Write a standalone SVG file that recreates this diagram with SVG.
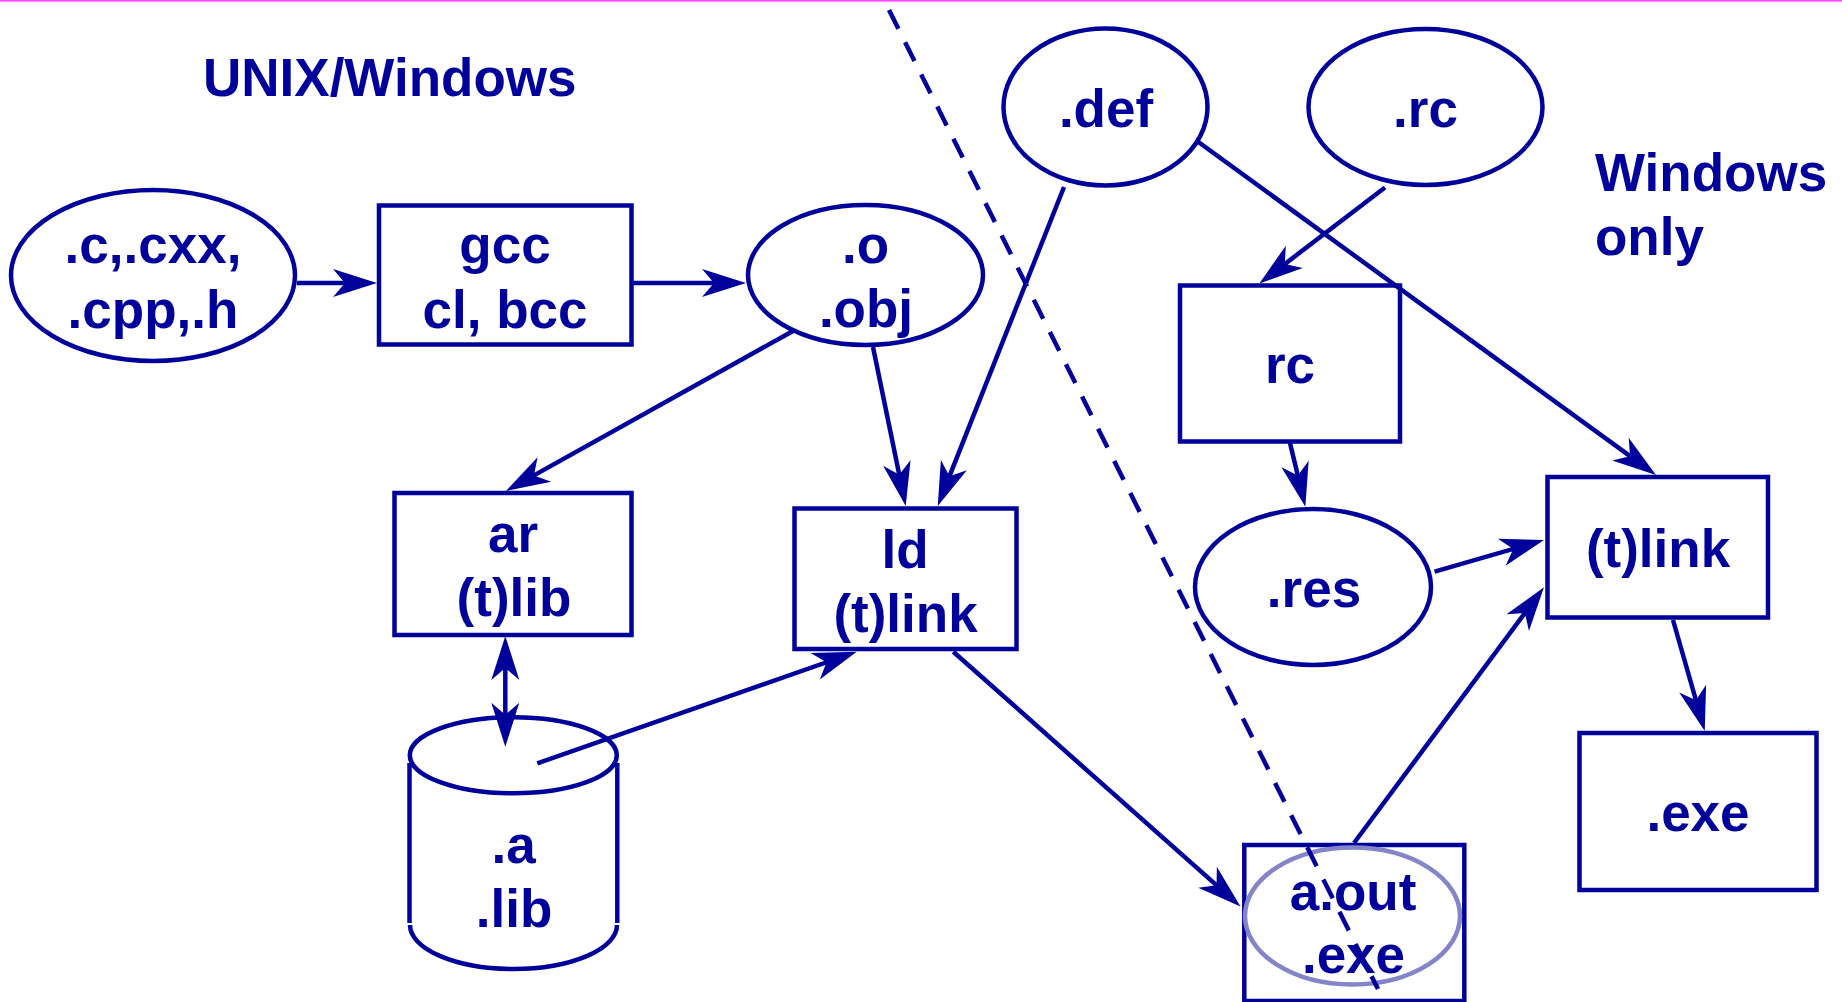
<svg xmlns="http://www.w3.org/2000/svg" width="1842" height="1002" viewBox="0 0 1842 1002">
<style>
  .shape { fill: none; stroke: #00009a; stroke-width: 4.5; }
  .light { fill: none; stroke: #8484c8; stroke-width: 4.5; }
  .lbl { font-family: "Liberation Sans", Arial, sans-serif; font-weight: bold; font-size: 53px; fill: #00009a; text-anchor: middle; }
  .title { font-family: "Liberation Sans", Arial, sans-serif; font-weight: bold; font-size: 53px; fill: #00009a; }
  .conn { fill: none; stroke: #00009a; stroke-width: 4.5; marker-end: url(#ah); }
  .dash { fill: none; stroke: #00009a; stroke-width: 4.5; stroke-dasharray: 21 15; }
</style>
<defs>
  <marker id="ah" markerUnits="userSpaceOnUse" viewBox="-46 -16 58 32" markerWidth="58" markerHeight="32" refX="-10" refY="0" orient="auto-start-reverse">
    <path d="M0,0 L-44,-14 L-32,0 L-44,14 Z" fill="#00009a"/>
  </marker>
</defs>
<rect x="0" y="0" width="1842" height="1.6" fill="#ff44ff"/>

<g id="title-unix">
  <text class="title" x="203" y="96">UNIX/Windows</text>
</g>
<g id="title-windows">
  <text class="title" x="1595" y="191">Windows</text>
  <text class="title" x="1595" y="255">only</text>
</g>

<g id="node-src">
  <ellipse class="shape" cx="153" cy="275.5" rx="142" ry="85.5"/>
  <text class="lbl" x="153" y="263">.c,.cxx,</text>
  <text class="lbl" x="153" y="328">.cpp,.h</text>
</g>
<g id="node-gcc">
  <rect class="shape" x="379" y="205.5" width="252.5" height="139"/>
  <text class="lbl" x="505" y="263">gcc</text>
  <text class="lbl" x="505" y="328">cl, bcc</text>
</g>
<g id="node-obj">
  <ellipse class="shape" cx="865.5" cy="275" rx="117.5" ry="70"/>
  <text class="lbl" x="865.5" y="263">.o</text>
  <text class="lbl" x="866" y="327">.obj</text>
</g>
<g id="node-def">
  <ellipse class="shape" cx="1105.5" cy="107" rx="102" ry="78.5"/>
  <text class="lbl" x="1106" y="127">.def</text>
</g>
<g id="node-rcfile">
  <ellipse class="shape" cx="1425.5" cy="107" rx="117" ry="78"/>
  <text class="lbl" x="1425.5" y="127">.rc</text>
</g>
<g id="node-rc">
  <rect class="shape" x="1180" y="285.5" width="220" height="156"/>
  <text class="lbl" x="1290" y="383">rc</text>
</g>
<g id="node-res">
  <ellipse class="shape" cx="1313" cy="587" rx="118" ry="78"/>
  <text class="lbl" x="1314" y="607">.res</text>
</g>
<g id="node-tlink">
  <rect class="shape" x="1547.5" y="477" width="220.5" height="140.5"/>
  <text class="lbl" x="1658" y="567">(t)link</text>
</g>
<g id="node-exe">
  <rect class="shape" x="1579.5" y="733" width="237" height="157"/>
  <text class="lbl" x="1698" y="831">.exe</text>
</g>
<g id="node-ar">
  <rect class="shape" x="394.5" y="493" width="237" height="142"/>
  <text class="lbl" x="513" y="552">ar</text>
  <text class="lbl" x="514" y="616">(t)lib</text>
</g>
<g id="node-ld">
  <rect class="shape" x="794.5" y="508.5" width="222" height="140.5"/>
  <text class="lbl" x="905" y="568">ld</text>
  <text class="lbl" x="905.5" y="632">(t)link</text>
</g>
<g id="node-lib">
  <ellipse class="shape" cx="513.3" cy="755.3" rx="103.5" ry="38"/>
  <line class="shape" x1="409.5" y1="763" x2="409.5" y2="923"/>
  <line class="shape" x1="617.3" y1="763" x2="617.3" y2="923"/>
  <path class="shape" d="M410,925 A103.5,44 0 0 0 617,925"/>
  <text class="lbl" x="513.7" y="863">.a</text>
  <text class="lbl" x="514" y="927">.lib</text>
</g>
<g id="node-aout">
  <rect class="shape" x="1244.3" y="845" width="220" height="156"/>
  <ellipse class="light" cx="1352.5" cy="916" rx="107.5" ry="68.5"/>
  <text class="lbl" x="1353" y="910">a.out</text>
  <text class="lbl" x="1353.5" y="973">.exe</text>
</g>

<g id="connectors">
  <line class="conn" x1="297" y1="283" x2="367" y2="283"/>
  <line class="conn" x1="632" y1="283" x2="736" y2="283"/>
  <line class="conn" x1="793" y1="331" x2="514.7" y2="486.1"/>
  <line class="conn" x1="873" y1="347" x2="903.7" y2="496.2"/>
  <line class="conn" x1="1064" y1="187" x2="941.4" y2="496.7"/>
  <line class="conn" x1="1197" y1="141" x2="1647.9" y2="469.1"/>
  <line class="conn" x1="1385" y1="187.5" x2="1267.3" y2="277.4"/>
  <line class="conn" x1="1290" y1="443" x2="1303" y2="497"/>
  <line class="conn" x1="1434.6" y1="571.7" x2="1534.4" y2="542.8"/>
  <line class="conn" x1="1354" y1="843" x2="1538" y2="595.3"/>
  <line class="conn" x1="1673" y1="620" x2="1702" y2="721.4"/>
  <line class="conn" x1="953.3" y1="651.7" x2="1233" y2="899.9"/>
  <line class="conn" x1="537.3" y1="763.3" x2="847.3" y2="655"/>
  <line class="conn" x1="505.3" y1="646" x2="505.3" y2="736.7" marker-start="url(#ah)"/>
  <line class="dash" x1="889" y1="10" x2="1378" y2="989"/>
</g>
</svg>
